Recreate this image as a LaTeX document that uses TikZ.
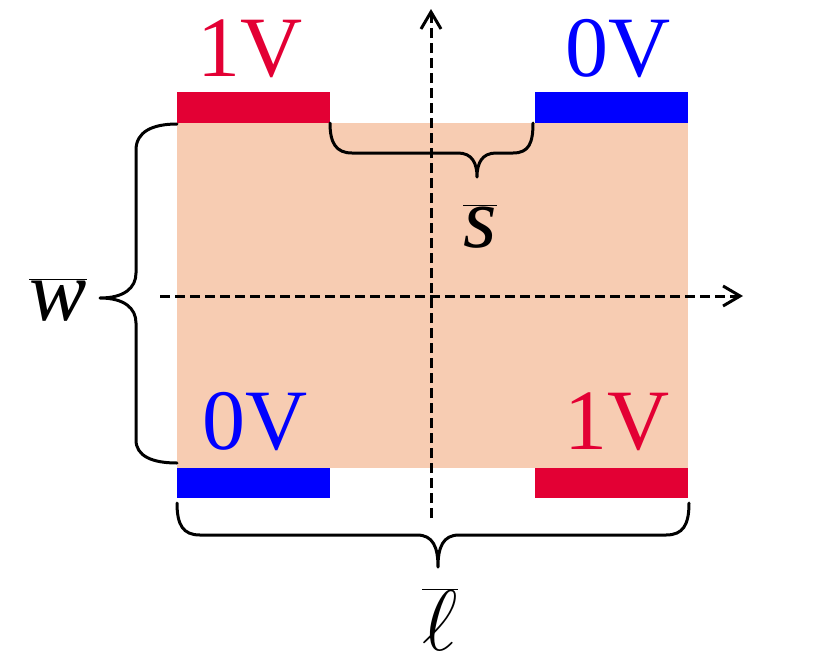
\RequirePackage{fix-cm}
\documentclass[tikz,border=0pt]{standalone}
\usepackage{fontspec}
\setmainfont{Liberation Serif}
\usetikzlibrary{arrows.meta}
\definecolor{plateorange}{RGB}{247, 204, 178}
\definecolor{padred}{RGB}{227, 0, 52}
\definecolor{padblue}{RGB}{0, 0, 255}
\tikzset{
  axis/.style={dash pattern=on 10pt off 5pt, line width=3pt, -{Straight Barb[length=17pt,width=20pt]}},
  brace/.style={line width=3pt, line cap=round, line join=round},
  volt/.style={anchor=base, inner sep=0pt, font=\fontsize{86}{96}\selectfont},
  dim/.style={anchor=base, inner sep=0pt, font=\fontsize{86}{96}\selectfont}
}

\begin{document}
\begin{tikzpicture}[x=1pt, y=-1pt]
\useasboundingbox (0,0) rectangle (830,662);
\fill[plateorange] (177,123) rectangle (688,468);
\fill[padred] (177,92) rectangle (330,123);
\fill[padblue] (535,92) rectangle (688,123);
\fill[padblue] (177,468) rectangle (330,498);
\fill[padred] (535,468) rectangle (688,498);
\node[volt, padred] (vtl) at (250,76) {1V};
\node[volt, padblue] (vtr) at (618,76) {0V};
\node[volt, padblue] (vbl) at (255,449) {0V};
\node[volt, padred] (vbr) at (617,449) {1V};
\coordinate (ybot) at (431,518);
\coordinate (ytop) at (431,9);
\coordinate (xleft) at (160,296);
\coordinate (xright) at (743,296);
\draw[axis] (ybot) -- (ytop);
\draw[axis] (xleft) -- (xright);
\draw[brace] (330,123) .. controls (330,143) and (336,153) .. (352,153) -- (458,153)
  .. controls (472,153) and (477,163) .. (477,177) .. controls (477,163) and (482,153) .. (496,153)
  -- (513,153) .. controls (529,153) and (533,143) .. (533,123);
\draw[brace] (177,503) .. controls (177,525) and (183,535) .. (200,535) -- (417,535)
  .. controls (433,535) and (438,547) .. (438,567) .. controls (438,547) and (443,535) .. (459,535)
  -- (666,535) .. controls (683,535) and (689,525) .. (689,503);
\draw[brace] (177,124) .. controls (152,124) and (136,132) .. (136,150) -- (136,273)
  .. controls (136,288) and (124,298) .. (100,298) .. controls (124,298) and (136,308) .. (136,323)
  -- (136,440) .. controls (136,456) and (152,463) .. (177,463);
\node[dim] (slabel) at (480,247) {$\overline{\hbox{\itshape s}}$};
\node[dim] (wlabel) at (58,320) {$\overline{\hbox{\itshape w}}$};
\node[dim] (llabel) at (440,650) {$\overline{\ell}$};
\end{tikzpicture}
\end{document}
